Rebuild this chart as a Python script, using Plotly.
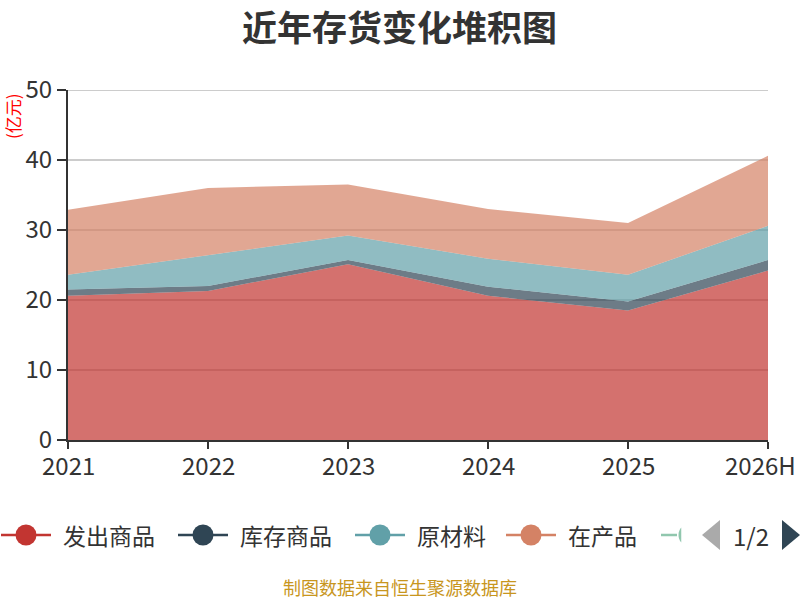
import math
import plotly.graph_objects as go

# 数据（亿元）
years = ['2021', '2022', '2023', '2024', '2025', '2026H']
fachu = [20.6, 21.3, 25.1, 20.6, 18.5, 24.2]      # 发出商品
kucun = [0.9, 0.7, 0.6, 1.3, 1.3, 1.5]            # 库存商品
yuancailiao = [2.1, 4.4, 3.5, 4.0, 3.8, 4.9]      # 原材料
zaichanpin = [9.3, 9.6, 7.3, 7.1, 7.4, 10.0]      # 在产品

names = ['发出商品', '库存商品', '原材料', '在产品']
series = [fachu, kucun, yuancailiao, zaichanpin]
colors = ['#c23531', '#2f4554', '#61a0a8', '#d48265', '#91c7ae']
y_max = 50

font = 'Noto Sans CJK SC'

# 绘图区像素位置
W, H = 800, 600
L, R, T, B = 68, 768, 90, 440


def px(x):
    return (x - L) / (R - L)


def py(y):
    return (B - y) / (B - T)


def rgba(hex_color, a):
    h = hex_color.lstrip('#')
    r, g, b = int(h[0:2], 16), int(h[2:4], 16), int(h[4:6], 16)
    return f'rgba({r},{g},{b},{a})'


fig = go.Figure()

for name, vals, c in zip(names, series, colors):
    fig.add_trace(go.Scatter(
        x=years, y=vals, name=name, stackgroup='one', mode='lines',
        line=dict(width=0, color=c), fillcolor=rgba(c, 0.7), showlegend=False,
        hoverinfo='x+y+name'))

shapes = []
annotations = []

# 顶部 50 的网格线（范围边界处 plotly 不画）
shapes.append(dict(type='line', xref='paper', yref='y', x0=0, x1=1, y0=y_max, y1=y_max,
                   line=dict(color='#cccccc', width=2), layer='below'))

# x 轴标签（按类目序号定位；最后一个向内收，和原图一样不出界）
for i, yr in enumerate(years):
    annotations.append(dict(text=yr, xref='x', yref='paper', x=i, y=py(464),
                            xanchor='center', yanchor='middle', showarrow=False,
                            xshift=-8 if i == len(years) - 1 else 0,
                            font=dict(size=24, color='#333', family=font)))

# 手工图例（模仿 echarts 分页图例）
leg_y = py(535)
leg_cx = [26, 203, 380, 531]
for name, c, cx in zip(names, colors, leg_cx):
    shapes.append(dict(type='line', xref='paper', yref='paper',
                       x0=px(cx - 25), x1=px(cx + 25), y0=leg_y, y1=leg_y,
                       line=dict(color=c, width=2.5)))
    shapes.append(dict(type='circle', xref='paper', yref='paper',
                       xsizemode='pixel', ysizemode='pixel',
                       xanchor=px(cx), yanchor=leg_y,
                       x0=-10.5, x1=10.5, y0=-10.5, y1=10.5,
                       fillcolor=c, line=dict(width=0)))
    annotations.append(dict(text=name, xref='paper', yref='paper',
                            x=px(cx + 35), y=leg_y, xanchor='left', yanchor='middle',
                            showarrow=False,
                            font=dict(size=23, color='#333', family=font)))

# 第 5 项被分页截断，只露出线和半个圆
c5 = colors[4]
shapes.append(dict(type='line', xref='paper', yref='paper',
                   x0=px(661), x1=px(677), y0=leg_y, y1=leg_y,
                   line=dict(color=c5, width=2.5)))
arc = []
for k in range(0, 13):
    a = math.radians(180 - 45 + k * 7.5)
    arc.append((9.5 * math.cos(a), 10.5 * math.sin(a)))
path = 'M ' + ' L '.join(f'{ax:.2f},{ay:.2f}' for ax, ay in arc) + ' Z'
shapes.append(dict(type='path', xref='paper', yref='paper',
                   xsizemode='pixel', ysizemode='pixel',
                   xanchor=px(688), yanchor=leg_y, path=path,
                   fillcolor=c5, line=dict(width=0)))

# 分页箭头
shapes.append(dict(type='path', xref='paper', yref='paper',
                   xsizemode='pixel', ysizemode='pixel',
                   xanchor=px(711), yanchor=leg_y,
                   path='M -9,0 L 9,15 L 9,-15 Z',
                   fillcolor='#aaaaaa', line=dict(width=0)))
shapes.append(dict(type='path', xref='paper', yref='paper',
                   xsizemode='pixel', ysizemode='pixel',
                   xanchor=px(791), yanchor=leg_y,
                   path='M -9,15 L -9,-15 L 9,0 Z',
                   fillcolor='#2f4554', line=dict(width=0)))
annotations.append(dict(text='1/2', xref='paper', yref='paper',
                        x=px(751), y=leg_y, xanchor='center', yanchor='middle',
                        showarrow=False, font=dict(size=24, color='#333', family=font)))

annotations.append(dict(text='(亿元)', xref='paper', yref='paper',
                        x=px(12), y=py(116), xanchor='center', yanchor='middle',
                        textangle=-90, showarrow=False,
                        font=dict(size=17, color='red', family=font)))
annotations.append(dict(text='制图数据来自恒生聚源数据库', xref='paper', yref='paper',
                        x=px(400), y=py(587), xanchor='center', yanchor='middle',
                        showarrow=False,
                        font=dict(size=18, color='#c8961e', family=font)))
annotations.append(dict(text='<b>近年存货变化堆积图</b>', xref='paper', yref='paper',
                        x=px(399), y=py(25), xanchor='center', yanchor='middle',
                        showarrow=False,
                        font=dict(size=35, color='#333', family=font)))

fig.update_layout(
    width=W, height=H,
    paper_bgcolor='white', plot_bgcolor='white',
    margin=dict(l=L, r=W - R, t=T, b=H - B, autoexpand=False),
    font=dict(family=font, color='#333'),
    showlegend=False,
    xaxis=dict(type='category', range=[0, len(years) - 1], showgrid=False, automargin=False,
               showline=True, linecolor='#333', linewidth=2, showticklabels=False,
               ticks='outside', ticklen=7, tickcolor='#333', tickwidth=2),
    yaxis=dict(range=[0, y_max], dtick=10, showgrid=True, gridcolor='#cccccc', gridwidth=2,
               zeroline=False, showline=True, linecolor='#333', linewidth=2, automargin=False,
               ticks='outside', ticklen=9, tickcolor='#333', tickwidth=2,
               tickfont=dict(size=24, color='#333', family=font)),
    shapes=shapes,
    annotations=annotations,
)

# 去掉页面默认的 8px 边距
fig.write_html('out.html', config={'displayModeBar': False},
               post_script="document.body.style.margin='0';")
